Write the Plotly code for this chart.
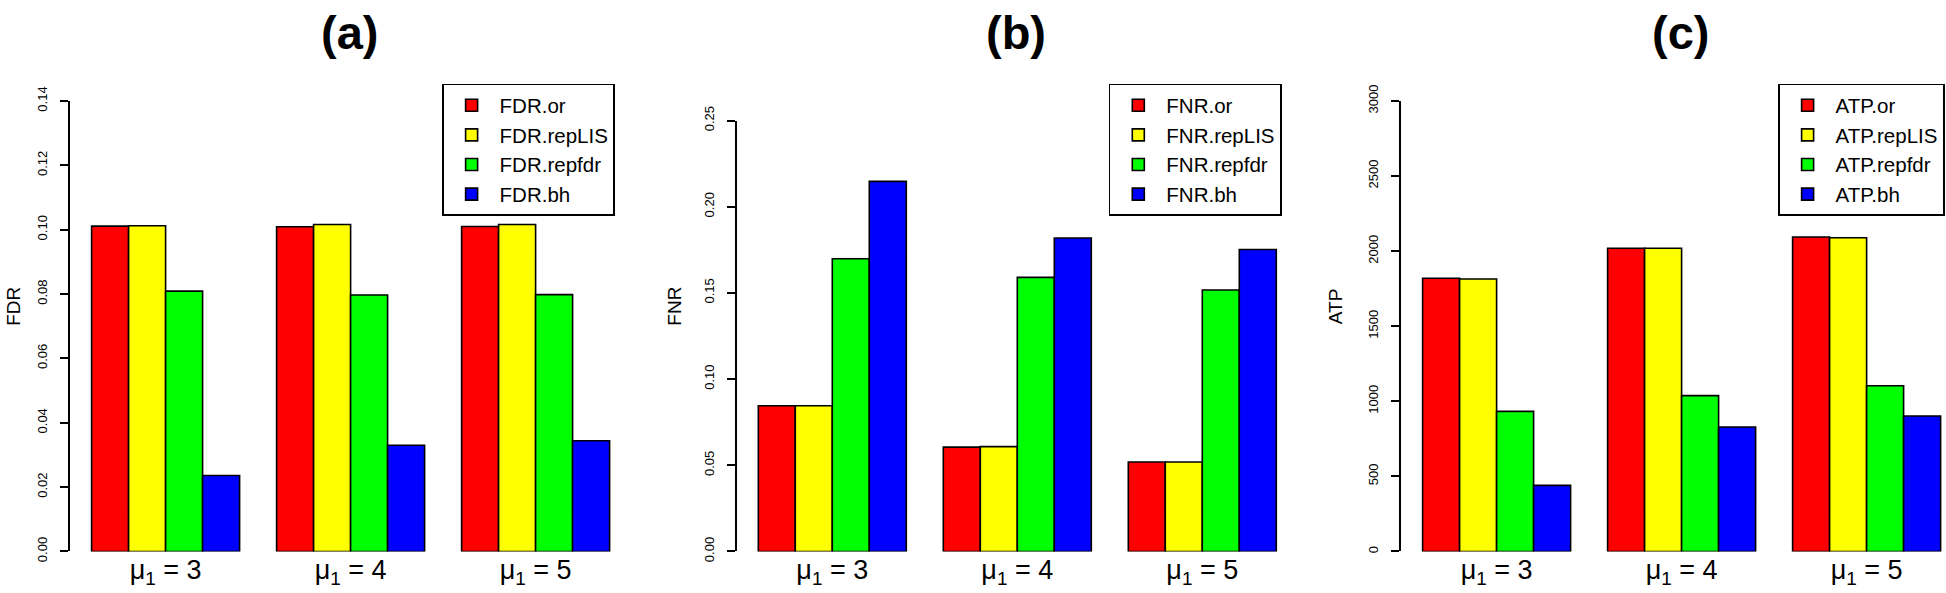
import plotly.graph_objects as go

W, H = 1946, 593

# ---------------- data ----------------
categories = ["μ<sub>1</sub> = 3", "μ<sub>1</sub> = 4", "μ<sub>1</sub> = 5"]
methods = ["or", "repLIS", "repfdr", "bh"]
colors = ["#FF0000", "#FFFF00", "#00FF00", "#0000FF"]

fdr_or = [0.1011, 0.1009, 0.1010]
fdr_replis = [0.1012, 0.1016, 0.1016]
fdr_repfdr = [0.0809, 0.0797, 0.0798]
fdr_bh = [0.0236, 0.0330, 0.0344]

fnr_or = [0.0845, 0.0605, 0.0519]
fnr_replis = [0.0845, 0.0608, 0.0519]
fnr_repfdr = [0.1698, 0.1590, 0.1517]
fnr_bh = [0.2147, 0.1818, 0.1752]

atp_or = [1819, 2019, 2094]
atp_replis = [1814, 2019, 2089]
atp_repfdr = [933, 1038, 1103]
atp_bh = [440, 829, 902]

fdr_ticks = [0.00, 0.02, 0.04, 0.06, 0.08, 0.10, 0.12, 0.14]
fnr_ticks = [0.00, 0.05, 0.10, 0.15, 0.20, 0.25]
atp_ticks = [0, 500, 1000, 1500, 2000, 2500, 3000]

panels = [
    dict(metric="FDR", label="(a)", series=[fdr_or, fdr_replis, fdr_repfdr, fdr_bh],
         ticks=fdr_ticks, fmt="{:.2f}"),
    dict(metric="FNR", label="(b)", series=[fnr_or, fnr_replis, fnr_repfdr, fnr_bh],
         ticks=fnr_ticks, fmt="{:.2f}"),
    dict(metric="ATP", label="(c)", series=[atp_or, atp_replis, atp_repfdr, atp_bh],
         ticks=atp_ticks, fmt="{:d}"),
]

# ---------------- layout geometry (pixels) ----------------
axis_px = [70, 736.7, 1401]
top_px = [89, 109.5, 89]
bottom_px = 561
bar_px = 37.0          # width of one bar in pixels
left_gap_px = 21.6     # gap between y-axis line and first bar
plot_w = 545
ytitle_x = [12.7, 674.5, 1335]
ytitle_y = 304
title_x = [349, 1015.7, 1680]
legend_right_px = [615, 1281.7, 1945]
legend_top_px = 71

FONT = "Liberation Sans, Arial, Helvetica, sans-serif"


def px(x):
    return x / W


def py(y):
    return 1 - y / H


cat_px = bar_px * 5  # one category = 4 bars + 1 bar gap
x_lo = -0.4 - left_gap_px / cat_px

fig = go.Figure()
layout = dict(
    width=W, height=H,
    margin=dict(l=0, r=0, t=0, b=0),
    paper_bgcolor="white", plot_bgcolor="white",
    barmode="group", bargap=0.2, bargroupgap=0,
    font=dict(family=FONT, color="black"),
    showlegend=True,
)
annotations = []

for i, p in enumerate(panels):
    n = "" if i == 0 else str(i + 1)
    xa, ya = "x" + n, "y" + n
    leg = "legend" + n
    for m, col, vals in zip(methods, colors, p["series"]):
        fig.add_trace(go.Bar(
            x=categories, y=vals, name=f"{p['metric']}.{m}",
            marker=dict(color=col, line=dict(color="black", width=1.6)),
            xaxis=xa, yaxis=ya, legend=leg,
        ))
    right = min(axis_px[i] + plot_w, W)
    layout["xaxis" + n] = dict(
        domain=[px(axis_px[i]), px(right)],
        range=[x_lo, x_lo + (right - axis_px[i]) / cat_px],
        anchor=ya, showline=False, ticks="", showgrid=False, zeroline=False,
        tickfont=dict(size=27, family=FONT, color="black"),
        ticklabelstandoff=0,
    )
    layout["yaxis" + n] = dict(
        domain=[py(bottom_px), py(top_px[i])],
        range=[0, p["ticks"][-1]],
        anchor=xa, showline=True, linecolor="black", linewidth=1.5,
        ticks="outside", ticklen=8, tickwidth=1.5, tickcolor="black",
        tickvals=p["ticks"], ticktext=[p["fmt"].format(t) for t in p["ticks"]],
        tickangle=-90, tickfont=dict(size=13, family=FONT, color="black"),
        showgrid=False, zeroline=False, ticklabelstandoff=8,
    )
    layout[leg] = dict(
        x=px(legend_right_px[i]), y=py(legend_top_px), xanchor="right", yanchor="top",
        bordercolor="black", borderwidth=1.6, bgcolor="white",
        font=dict(size=20.5, family=FONT, color="black"),
        itemwidth=46,
    )
    annotations.append(dict(
        x=px(title_x[i]), y=1, xref="paper", yref="paper", xanchor="center", yanchor="top",
        yshift=12,
        text=f"<b>{p['label']}</b>", showarrow=False,
        font=dict(size=47, family=FONT, color="black"),
    ))
    annotations.append(dict(
        x=px(ytitle_x[i]), y=py(ytitle_y), xref="paper", yref="paper",
        xanchor="center", yanchor="middle", textangle=-90,
        text=p["metric"], showarrow=False,
        font=dict(size=19, family=FONT, color="black"),
    ))

layout["annotations"] = annotations
fig.update_layout(**layout)
fig.write_html(
    "out.html",
    config={"displayModeBar": False},
    post_script="document.body.style.margin='0';document.body.style.overflow='hidden';",
)
